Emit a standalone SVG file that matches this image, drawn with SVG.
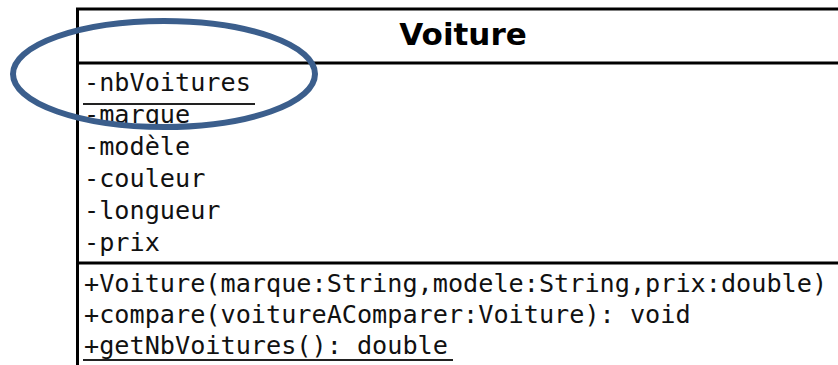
<svg xmlns="http://www.w3.org/2000/svg" width="838" height="365" viewBox="0 0 838 365">
<style>
.box{fill:#fff;stroke:#000;stroke-width:3}
.sep{stroke:#000;stroke-width:3}
.ul{stroke:#222;stroke-width:2}
.t{font-family:"DejaVu Sans Mono","Liberation Mono",monospace;font-size:25.2px;fill:#111}
.title{font-family:"DejaVu Sans","Liberation Sans",sans-serif;font-weight:bold;font-size:31px;fill:#000;text-anchor:middle}
.hl{fill:none;stroke:#3B5E8C;stroke-width:6}
</style>
<rect width="838" height="365" fill="#fff"/>
<g id="voiture">
<rect class="box" x="77.5" y="9" width="800" height="400"/>
<line class="sep" x1="77" y1="63" x2="838" y2="63"/>
<line class="sep" x1="77" y1="263" x2="838" y2="263"/>
<text class="title" x="463" y="45">Voiture</text>
<text class="t" x="84" y="91">-nbVoitures</text>
<line class="ul" x1="83" y1="104" x2="255" y2="104"/>
<text class="t" x="84" y="123">-marque</text>
<text class="t" x="84" y="155">-modèle</text>
<text class="t" x="84" y="187">-couleur</text>
<text class="t" x="84" y="219">-longueur</text>
<text class="t" x="84" y="251">-prix</text>
<text class="t" x="84" y="292">+Voiture(marque:String,modele:String,prix:double)</text>
<text class="t" x="84" y="323">+compare(voitureAComparer:Voiture): void</text>
<text class="t" x="84" y="354">+getNbVoitures(): double</text>
<line class="ul" x1="83" y1="360" x2="453" y2="360"/>
</g>
<g id="highlight">
<ellipse class="hl" cx="164" cy="74" rx="151" ry="53"/>
</g>
</svg>
